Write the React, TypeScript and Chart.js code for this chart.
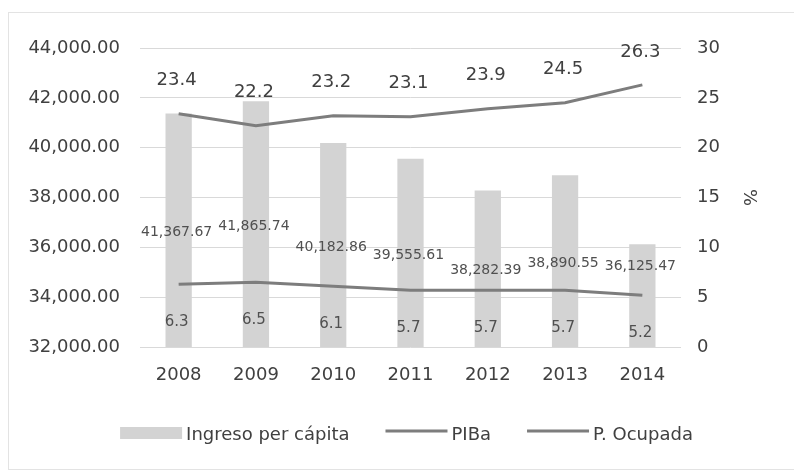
import React, { useEffect, useRef } from "react";
import { Chart, registerables } from "chart.js";

Chart.register(...registerables);

const years = ["2008", "2009", "2010", "2011", "2012", "2013", "2014"];
const ingresoPerCapita = [41367.67, 41865.74, 40182.86, 39555.61, 38282.39, 38890.55, 36125.47];
const piba = [23.4, 22.2, 23.2, 23.1, 23.9, 24.5, 26.3];
const pOcupada = [6.3, 6.5, 6.1, 5.7, 5.7, 5.7, 5.2];
const leftTicks = [32000, 34000, 36000, 38000, 40000, 42000, 44000];
const rightTicks = [0, 5, 10, 15, 20, 25, 30];

const FONT = "'DejaVu Sans', sans-serif";
const TEXT = "#404040";
const BAR = "#d3d3d3";
const LINE = "#7d7d7d";

const fmt = (v: number) => {
  const fixed = Math.abs(v).toFixed(2);
  const [intPart, dec] = fixed.split(".");
  const withCommas = intPart.replace(/\B(?=(\d{3})+(?!\d))/g, ",");
  return (v < 0 ? "-" : "") + withCommas + "." + dec;
};

const decorPlugin = {
  id: "decor",
  beforeDraw(chart: any) {
    const ctx = chart.ctx;
    ctx.save();
    ctx.fillStyle = "#ffffff";
    ctx.fillRect(0, 0, chart.width, chart.height);
    ctx.strokeStyle = "#e3e3e3";
    ctx.lineWidth = 1;
    ctx.strokeRect(8.5, 12.5, chart.width + 10, chart.height - 15);
    ctx.restore();
  },
  afterDraw(chart: any) {
    const ctx = chart.ctx;
    const area = chart.chartArea;
    const yL = chart.scales.y;
    const yR = chart.scales.y2;
    const xS = chart.scales.x;
    ctx.save();
    ctx.textAlign = "center";
    ctx.textBaseline = "middle";
    // bar labels (centered in bar, moved below the bar top if colliding with a line point)
    ctx.font = `14px ${FONT}`;
    ctx.fillStyle = "#505050";
    ingresoPerCapita.forEach((v, i) => {
      const x = xS.getPixelForValue(i);
      const top = yL.getPixelForValue(v);
      const base = yL.getPixelForValue(yL.min);
      let y = (top + base) / 2 + 2;
      const ly = yR.getPixelForValue(pOcupada[i]);
      if (Math.abs(y - ly) < 12) y = top + 22;
      ctx.fillText(fmt(v), x - 2, y);
    });
    // upper line labels
    ctx.font = `18px ${FONT}`;
    ctx.fillStyle = TEXT;
    piba.forEach((v, i) => {
      ctx.fillText(v.toFixed(1), xS.getPixelForValue(i) - 2, yR.getPixelForValue(v) - 33);
    });
    // lower line labels
    ctx.font = `15px ${FONT}`;
    ctx.fillStyle = "#505050";
    pOcupada.forEach((v, i) => {
      ctx.fillText(v.toFixed(1), xS.getPixelForValue(i) - 2, yR.getPixelForValue(v) + 38);
    });

    // legend
    ctx.font = `18px ${FONT}`;
    ctx.textBaseline = "middle";
    const items = [
      { label: "Ingreso per cápita", type: "bar" },
      { label: "PIBa", type: "line" },
      { label: "P. Ocupada", type: "line" },
    ];
    const sw = 62;
    const gapText = 4;
    const gapItem = 36;
    const widths = items.map((it) => sw + gapText + ctx.measureText(it.label).width);
    const total = widths.reduce((a, b) => a + b, 0) + gapItem * (items.length - 1);
    let x = (area.left + area.right) / 2 - total / 2 - 4;
    const cy = 435;
    items.forEach((it, i) => {
      if (it.type === "bar") {
        ctx.fillStyle = BAR;
        ctx.fillRect(x, cy - 8, sw, 12);
      } else {
        ctx.strokeStyle = LINE;
        ctx.lineWidth = 3;
        ctx.beginPath();
        ctx.moveTo(x, cy - 4);
        ctx.lineTo(x + sw, cy - 4);
        ctx.stroke();
      }
      ctx.fillStyle = TEXT;
      ctx.textAlign = "left";
      ctx.fillText(it.label, x + sw + gapText, cy);
      x += widths[i] + gapItem;
    });
    ctx.restore();
  },
};

export default function App() {
  const ref = useRef<HTMLCanvasElement | null>(null);
  useEffect(() => {
    document.body.style.margin = "0";
    const canvas = ref.current!;
    const chart = new Chart(canvas, {
      type: "bar",
      data: {
        labels: years,
        datasets: [
          {
            type: "bar",
            label: "Ingreso per cápita",
            data: ingresoPerCapita,
            backgroundColor: BAR,
            yAxisID: "y",
            barPercentage: 0.34,
            categoryPercentage: 1,
            order: 3,
          },
          {
            type: "line",
            label: "PIBa",
            data: piba,
            borderColor: LINE,
            borderWidth: 3,
            pointRadius: 0,
            tension: 0,
            yAxisID: "y2",
            order: 1,
          },
          {
            type: "line",
            label: "P. Ocupada",
            data: pOcupada,
            borderColor: LINE,
            borderWidth: 3,
            pointRadius: 0,
            tension: 0,
            yAxisID: "y2",
            order: 2,
          },
        ] as any,
      },
      options: {
        animation: false,
        responsive: false,
        maintainAspectRatio: false,
        layout: { padding: { left: 0, right: 0, top: 48, bottom: 75 } },
        plugins: {
          legend: { display: false },
          tooltip: { enabled: false },
        },
        scales: {
          x: {
            grid: { display: false, drawTicks: false },
            border: { display: false },
            ticks: { font: { family: FONT, size: 18 }, color: TEXT, padding: 18 },
            afterFit: (s: any) => {
              s.height = 50;
            },
          },
          y: {
            position: "left",
            min: leftTicks[0],
            max: leftTicks[leftTicks.length - 1],
            afterBuildTicks: (s: any) => {
              s.ticks = leftTicks.map((v) => ({ value: v }));
            },
            grid: { color: "#d9d9d9", lineWidth: 1, drawTicks: false },
            border: { display: false },
            ticks: {
              font: { family: FONT, size: 18 },
              color: TEXT,
              padding: 20,
              callback: (v: any) => fmt(Number(v)),
            },
            afterFit: (s: any) => {
              s.width = 140;
            },
          },
          y2: {
            position: "right",
            min: rightTicks[0],
            max: rightTicks[rightTicks.length - 1],
            afterBuildTicks: (s: any) => {
              s.ticks = rightTicks.map((v) => ({ value: v }));
            },
            grid: { display: false, drawTicks: false },
            border: { display: false },
            ticks: { font: { family: FONT, size: 18 }, color: TEXT, padding: 16 },
            title: {
              display: true,
              text: "%",
              font: { family: FONT, size: 18 },
              color: TEXT,
              padding: { top: 35, bottom: 0 },
            },
            afterFit: (s: any) => {
              s.width = 113;
            },
          },
        },
      } as any,
      plugins: [decorPlugin],
    });
    return () => chart.destroy();
  }, []);
  return <canvas ref={ref} width={794} height={472} style={{ display: "block" }} />;
}
